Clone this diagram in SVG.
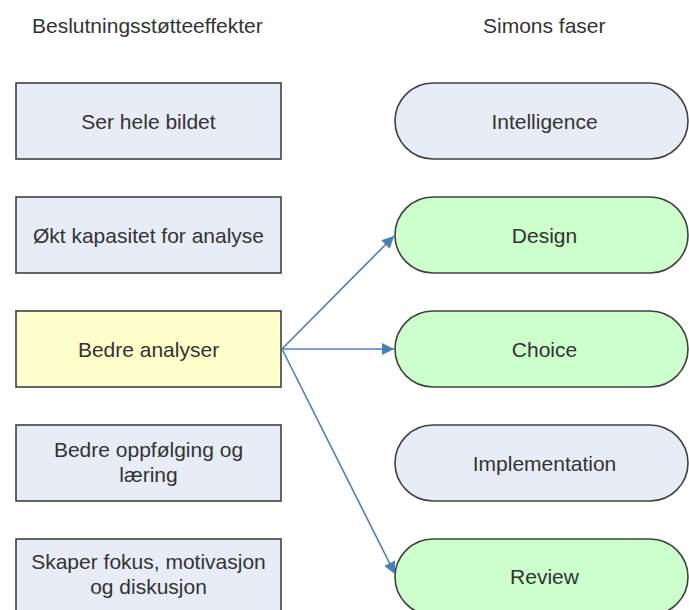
<svg xmlns="http://www.w3.org/2000/svg" width="689" height="610" viewBox="0 0 689 610">
  <style>
    .t { font-family: "Liberation Sans", Arial, sans-serif; font-size: 21px; fill: #333333; }
    .c { text-anchor: middle; }
    .box { fill: #E8ECF6; stroke: #404040; stroke-width: 1.6; }
    .yel { fill: #FFFFCC; }
    .grn { fill: #CCFFCC; }
    .con { stroke: #4A7EBB; stroke-width: 1.6; fill: none; marker-end: url(#ah); }
  </style>
  <defs>
    <marker id="ah" viewBox="0 0 10 10" refX="10" refY="5" markerUnits="userSpaceOnUse" markerWidth="16" markerHeight="12" orient="auto">
      <path d="M0,0 L10,5 L0,10 Z" fill="#4A7EBB"/>
    </marker>
  </defs>
  <rect width="689" height="610" fill="#FFFFFF"/>

  <g id="headers">
    <text class="t" x="32" y="33">Beslutningsstøtteeffekter</text>
    <text class="t" x="483" y="33">Simons faser</text>
  </g>

  <g id="ser-hele-bildet">
    <rect class="box" x="16" y="83" width="265" height="76"/>
    <text class="t c" x="148.5" y="128.5">Ser hele bildet</text>
  </g>
  <g id="okt-kapasitet">
    <rect class="box" x="16" y="197" width="265" height="76"/>
    <text class="t c" x="148.5" y="242.5">Økt kapasitet for analyse</text>
  </g>
  <g id="bedre-analyser">
    <rect class="box yel" x="16" y="311" width="265" height="76"/>
    <text class="t c" x="148.5" y="356.5">Bedre analyser</text>
  </g>
  <g id="bedre-oppfolging">
    <rect class="box" x="16" y="425" width="265" height="76"/>
    <text class="t c" x="148.5" y="457">Bedre oppfølging og</text>
    <text class="t c" x="148.5" y="482">læring</text>
  </g>
  <g id="skaper-fokus">
    <rect class="box" x="16" y="539" width="265" height="76"/>
    <text class="t c" x="148.5" y="569">Skaper fokus, motivasjon</text>
    <text class="t c" x="148.5" y="594">og diskusjon</text>
  </g>

  <g id="intelligence">
    <rect class="box" x="395" y="83" width="293" height="76" rx="38" ry="38"/>
    <text class="t c" x="544.5" y="128.5">Intelligence</text>
  </g>
  <g id="design">
    <rect class="box grn" x="395" y="197" width="293" height="76" rx="38" ry="38"/>
    <text class="t c" x="544.5" y="242.5">Design</text>
  </g>
  <g id="choice">
    <rect class="box grn" x="395" y="311" width="293" height="76" rx="38" ry="38"/>
    <text class="t c" x="544.5" y="356.5">Choice</text>
  </g>
  <g id="implementation">
    <rect class="box" x="395" y="425" width="293" height="76" rx="38" ry="38"/>
    <text class="t c" x="544.5" y="470.5">Implementation</text>
  </g>
  <g id="review">
    <rect class="box grn" x="395" y="539" width="293" height="76" rx="38" ry="38"/>
    <text class="t c" x="544.5" y="584">Review</text>
  </g>

  <g id="connectors">
    <line class="con" x1="282" y1="349" x2="394" y2="236"/>
    <line class="con" x1="282" y1="349" x2="394" y2="349"/>
    <line class="con" x1="282" y1="349" x2="395" y2="574"/>
  </g>
</svg>
